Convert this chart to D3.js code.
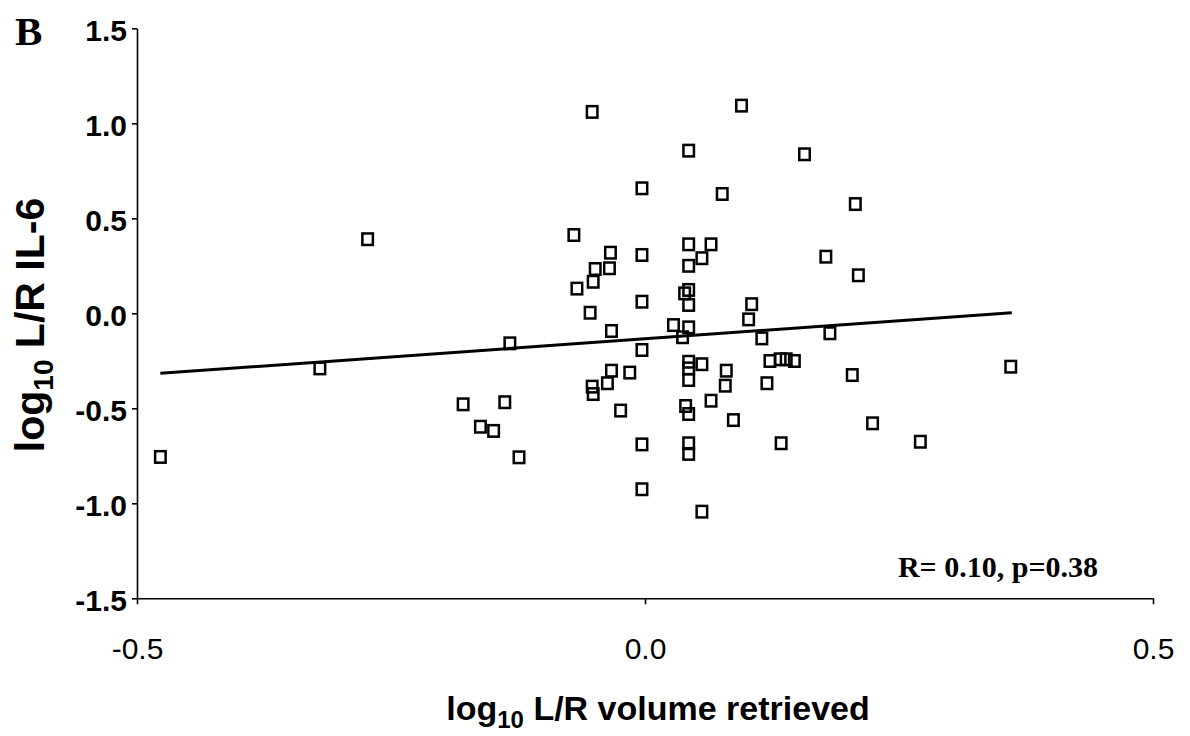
<!DOCTYPE html>
<html>
<head>
<meta charset="utf-8">
<script src="https://cdn.jsdelivr.net/npm/d3@7"></script>
<style>
  html, body { margin: 0; padding: 0; background: #fff; }
  svg { display: block; }
</style>
</head>
<body>
<svg id="chart" width="1190" height="736"></svg>
<script>
// ---- data ----
const xValues = [-0.477,-0.320,-0.273,-0.179,-0.162,-0.149,-0.138,-0.133,-0.124,-0.070,
  -0.067,-0.054,-0.052,-0.052,-0.051,-0.051,-0.049,-0.037,-0.035,-0.034,
  -0.033,-0.033,-0.024,-0.015,-0.003,-0.003,-0.003,-0.003,-0.003,-0.003,
  0.028,0.037,0.039,0.040,0.043,0.043,0.043,0.043,0.043,0.043,
  0.043,0.043,0.043,0.043,0.043,0.043,0.056,0.056,0.056,0.065,
  0.065,0.076,0.080,0.079,0.087,0.095,0.102,0.105,0.115,0.120,
  0.123,0.133,0.134,0.139,0.147,0.157,0.178,0.182,0.204,0.207,
  0.210,0.224,0.271,0.360];
const yValues = [-0.756,-0.290,0.390,-0.479,-0.597,-0.619,-0.468,-0.158,-0.758,0.412,
  0.130,0.003,1.060,-0.386,-0.425,0.166,0.233,-0.368,0.237,0.319,
  -0.093,-0.302,-0.512,-0.312,0.658,0.307,0.061,-0.193,-0.690,-0.926,
  -0.062,-0.126,0.105,-0.488,0.856,0.363,0.250,0.123,0.044,-0.074,
  -0.255,-0.290,-0.351,-0.530,-0.684,-0.740,0.290,-0.268,-1.044,0.363,
  -0.460,0.628,-0.302,-0.381,-0.562,1.093,-0.032,0.048,-0.132,-0.368,
  -0.251,-0.242,-0.684,-0.242,-0.251,0.837,0.298,-0.105,-0.325,0.575,
  0.200,-0.579,-0.676,-0.281];
const fitLineX = [-0.477, 0.361];
const fitLineY = [-0.316, 0.003];
const xTicks = [-0.5, 0.0, 0.5];
const yTicks = [-1.5, -1.0, -0.5, 0.0, 0.5, 1.0, 1.5];
const panelLabel = "B";
const statText = "R= 0.10, p=0.38";

// ---- drawing ----
const svg = d3.select("#chart");
const x = d3.scaleLinear().domain([-0.5, 0.5]).range([137, 1153]);
const y = d3.scaleLinear().domain([-1.5, 1.5]).range([598.3, 28.3]);
const fmt = d => d.toFixed(1);

// y axis
const gy = svg.append("g").attr("transform", `translate(${x(-0.5)},0)`)
  .call(d3.axisLeft(y).tickValues(yTicks).tickSize(5).tickSizeOuter(0).tickPadding(5).tickFormat(fmt));
gy.select(".domain").attr("stroke", "#000").attr("stroke-width", 1.6);
gy.selectAll(".tick line").attr("stroke", "#000").attr("stroke-width", 1.6);
gy.selectAll(".tick text")
  .attr("font-family", "Liberation Sans, Arial, sans-serif")
  .attr("font-size", 30).attr("font-weight", "bold").attr("fill", "#000")
  .attr("dy", "0.42em");

// x axis
const gx = svg.append("g").attr("transform", `translate(0,${y(-1.5)})`)
  .call(d3.axisBottom(x).tickValues(xTicks).tickSize(6).tickSizeOuter(0).tickPadding(33).tickFormat(fmt));
gx.select(".domain").attr("stroke", "#000").attr("stroke-width", 1.6);
gx.selectAll(".tick line").attr("stroke", "#000").attr("stroke-width", 1.6);
gx.selectAll(".tick text")
  .attr("font-family", "Liberation Sans, Arial, sans-serif")
  .attr("font-size", 30).attr("fill", "#000");

// regression line
const lineData = fitLineX.map((v, i) => [v, fitLineY[i]]);
svg.append("path")
  .datum(lineData)
  .attr("d", d3.line().x(d => x(d[0])).y(d => y(d[1])))
  .attr("fill", "none").attr("stroke", "#000").attr("stroke-width", 3);

// points
const pts = xValues.map((v, i) => ({ x: v, y: yValues[i] }));
const sw = 10.5, sh = 11.5;
svg.append("g").selectAll("rect").data(pts).join("rect")
  .attr("x", d => x(d.x) - sw / 2)
  .attr("y", d => y(d.y) - sh / 2)
  .attr("width", sw).attr("height", sh)
  .attr("fill", "none").attr("stroke", "#000").attr("stroke-width", 2.5);

// axis titles
const yt = svg.append("text")
  .attr("transform", "translate(44,325) rotate(-90)")
  .attr("text-anchor", "middle")
  .attr("font-family", "Liberation Sans, Arial, sans-serif")
  .attr("font-size", 41).attr("font-weight", "bold").attr("fill", "#000");
yt.append("tspan").text("log");
yt.append("tspan").attr("font-size", 28).attr("dy", 9).text("10");
yt.append("tspan").attr("dy", -9).text(" L/R IL-6");

const xt = svg.append("text")
  .attr("x", 658).attr("y", 720)
  .attr("text-anchor", "middle")
  .attr("font-family", "Liberation Sans, Arial, sans-serif")
  .attr("font-size", 34).attr("font-weight", "bold").attr("fill", "#000");
xt.append("tspan").text("log");
xt.append("tspan").attr("font-size", 24).attr("dy", 8).text("10");
xt.append("tspan").attr("dy", -8).text(" L/R volume retrieved");

// panel label
svg.append("text").attr("x", 15).attr("y", 45)
  .attr("font-family", "Liberation Serif, Times New Roman, serif")
  .attr("font-size", 41).attr("font-weight", "bold").attr("fill", "#000")
  .text(panelLabel);

// stats annotation
svg.append("text").attr("x", 1098).attr("y", 577)
  .attr("text-anchor", "end")
  .attr("font-family", "Liberation Serif, Times New Roman, serif")
  .attr("font-size", 30).attr("font-weight", "bold").attr("fill", "#000")
  .text(statText);
</script>
</body>
</html>
